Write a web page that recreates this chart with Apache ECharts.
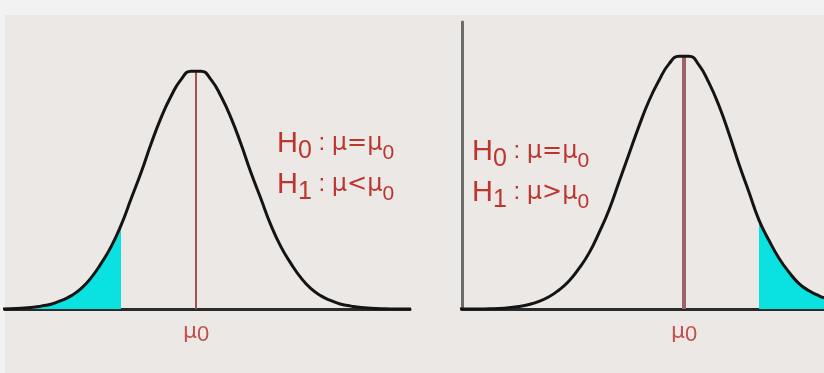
<!DOCTYPE html>
<html>
<head>
<meta charset="utf-8">
<style>
  html, body { margin: 0; padding: 0; background: #f2f2f2; }
  #chart { width: 824px; height: 373px; }
</style>
<script src="https://cdn.jsdelivr.net/npm/echarts@6/dist/echarts.min.js"></script>
</head>
<body>
<div id="chart"></div>
<script>
// curve heights (x = px offset from mu0, y = share of peak height)
const leftX = [-195, -185, -175, -165, -155, -145, -135, -125, -115, -105, -95, -85, -75, -65, -55, -45, -35, -25, -15, -5,
  5, 15, 25, 35, 45, 55, 65, 75, 85, 95, 105, 115, 125, 135, 145, 155, 165, 175, 185, 195, 205, 215]
const leftY = [0, 0.001, 0.003, 0.006, 0.012, 0.02, 0.035, 0.055, 0.085, 0.13, 0.19, 0.26, 0.35, 0.46, 0.57, 0.69, 0.80, 0.89, 0.96, 0.995,
  0.995, 0.96, 0.89, 0.80, 0.69, 0.57, 0.46, 0.35, 0.26, 0.19, 0.13, 0.085, 0.055, 0.035, 0.02, 0.012, 0.006, 0.003, 0.001, 0, 0, 0]
const leftCut = -75

const rightX = [-225, -215, -205, -195, -185, -175, -165, -155, -145, -135, -125, -115, -105, -95, -85, -75, -65, -55, -45, -35, -25, -15, -5,
  5, 15, 25, 35, 45, 55, 65, 75, 85, 95, 105, 115, 125, 135, 145]
const rightY = [0, 0, 0, 0.001, 0.002, 0.005, 0.01, 0.018, 0.03, 0.048, 0.075, 0.11, 0.16, 0.22, 0.30, 0.39, 0.50, 0.61, 0.72, 0.82, 0.90, 0.965, 0.995,
  0.995, 0.96, 0.89, 0.80, 0.69, 0.57, 0.46, 0.35, 0.27, 0.20, 0.145, 0.10, 0.072, 0.052, 0.038]
const rightCut = 75

const leftHyp = ['{h|H}{hs|0}{c| : }{m|μ=μ}{ms|0}', '{h|H}{hs|1}{c| : }{m|μ<μ}{ms|0}']
const rightHyp = ['{h|H}{hs|0}{c| : }{m|μ=μ}{ms|0}', '{h|H}{hs|1}{c| : }{m|μ>μ}{ms|0}']
const meanLabel = '{m|μ}{s|0}'

const pairs = (xs, ys) => xs.map((x, i) => [x, ys[i]])
const leftCurve = pairs(leftX, leftY)
const rightCurve = pairs(rightX, rightY)
const leftTail = leftCurve.filter(p => p[0] <= leftCut)
const rightTail = rightCurve.filter(p => p[0] >= rightCut)

const red = '#bc3630'
const hypRich = {
  h: { fontSize: 29, fill: red, lineHeight: 41, fontFamily: 'Liberation Sans' },
  hs: { fontSize: 25, fill: red, lineHeight: 24, verticalAlign: 'bottom', fontFamily: 'Liberation Sans' },
  c: { fontSize: 24, fill: red, lineHeight: 41, fontFamily: 'Liberation Sans' },
  m: { fontSize: 24, fill: red, lineHeight: 41, fontFamily: 'DejaVu Sans' },
  ms: { fontSize: 21, fill: red, lineHeight: 26, verticalAlign: 'bottom', fontFamily: 'Liberation Sans' }
}

const muLabel = {
  show: true,
  position: 'start',
  distance: 12,
  formatter: meanLabel,
  rich: {
    m: { fontSize: 22, color: '#c0504d', fontFamily: 'DejaVu Sans', lineHeight: 22 },
    s: { fontSize: 22, color: '#c0504d', fontFamily: 'Liberation Sans', lineHeight: 22, padding: [6, 0, 0, 0] }
  }
}

const chart = echarts.init(document.getElementById('chart'))

chart.setOption({
  animation: false,
  backgroundColor: '#f2f2f2',
  graphic: [
    { type: 'rect', z: -10, shape: { x: 5, y: 15, width: 819, height: 358 }, style: { fill: '#ece8e5' } },
    {
      type: 'text', left: 277, top: 129, z: 10,
      style: { text: leftHyp.join('\n'), rich: hypRich }
    },
    {
      type: 'text', left: 472, top: 137, z: 10,
      style: { text: rightHyp.join('\n'), rich: hypRich }
    }
  ],
  grid: [
    { left: 5, top: 70, width: 405, height: 239 },
    { left: 462, top: 22, width: 362, height: 287 }
  ],
  xAxis: [
    {
      gridIndex: 0, type: 'value', min: -191, max: 214,
      axisLine: { show: true, onZero: false, lineStyle: { color: '#2a2a2a', width: 3 } },
      axisTick: { show: false }, axisLabel: { show: false }, splitLine: { show: false }
    },
    {
      gridIndex: 1, type: 'value', min: -222, max: 140,
      axisLine: { show: true, onZero: false, lineStyle: { color: '#2a2a2a', width: 3 } },
      axisTick: { show: false }, axisLabel: { show: false }, splitLine: { show: false }
    }
  ],
  yAxis: [
    {
      gridIndex: 0, type: 'value', min: 0, max: 1,
      axisLine: { show: false }, axisTick: { show: false },
      axisLabel: { show: false }, splitLine: { show: false }
    },
    {
      gridIndex: 1, type: 'value', min: 0, max: 1.13,
      axisLine: { show: true, onZero: false, lineStyle: { color: '#6c6c6c', width: 3 } },
      axisTick: { show: false }, axisLabel: { show: false }, splitLine: { show: false }
    }
  ],
  series: [
    {
      type: 'line', xAxisIndex: 0, yAxisIndex: 0, data: leftTail,
      smooth: true, showSymbol: false, silent: true,
      lineStyle: { width: 0 }, areaStyle: { color: '#0ae2e2', opacity: 1 }
    },
    {
      type: 'line', xAxisIndex: 0, yAxisIndex: 0, data: leftCurve,
      smooth: true, showSymbol: false, z: 5,
      lineStyle: { color: '#141414', width: 3 },
      markLine: {
        silent: true, symbol: 'none',
        lineStyle: { color: '#a8504c', width: 2, type: 'solid' },
        label: muLabel,
        data: [[{ coord: [0, 0] }, { coord: [0, 1] }]]
      }
    },
    {
      type: 'line', xAxisIndex: 1, yAxisIndex: 1, data: rightTail,
      smooth: true, showSymbol: false, silent: true,
      lineStyle: { width: 0 }, areaStyle: { color: '#0ae2e2', opacity: 1 }
    },
    {
      type: 'line', xAxisIndex: 1, yAxisIndex: 1, data: rightCurve,
      smooth: true, showSymbol: false, z: 5,
      lineStyle: { color: '#141414', width: 3 },
      markLine: {
        silent: true, symbol: 'none',
        lineStyle: { color: '#9c6464', width: 4, type: 'solid' },
        label: muLabel,
        data: [[{ coord: [0, 0] }, { coord: [0, 1] }]]
      }
    }
  ]
})
</script>
</body>
</html>
